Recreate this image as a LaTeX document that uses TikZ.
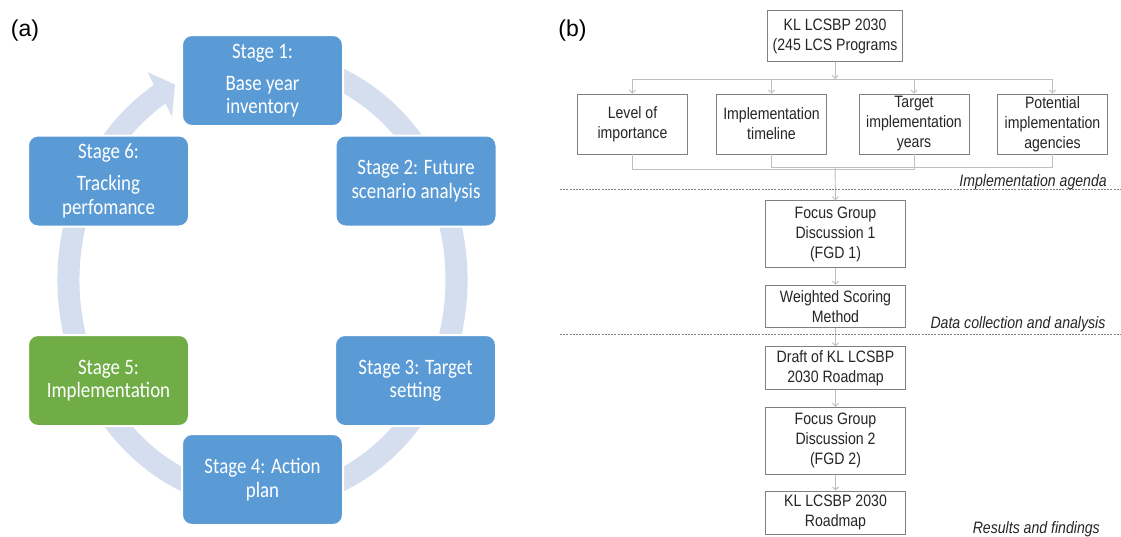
\documentclass[tikz,border=0pt]{standalone}
\usepackage{fontspec}
\usetikzlibrary{arrows.meta}
\newfontfamily\calfont[FakeStretch=0.86]{Carlito}
\newfontfamily\arlfont[FakeStretch=0.855]{Liberation Sans}
\newfontfamily\lblfont{Liberation Sans}
\definecolor{stblue}{HTML}{5B9BD5}
\definecolor{stgreen}{HTML}{70AD47}
\definecolor{ringc}{HTML}{D4DEEF}
\definecolor{boxline}{HTML}{808080}
\definecolor{connc}{HTML}{BFBFBF}
\tikzset{
 stage/.style={draw=white, line width=2pt, rounded corners=10pt, fill=stblue, minimum width=161pt, minimum height=91pt, text=white, font=\calfont\fontsize{22}{23.5}\selectfont, align=center, inner sep=0pt},
 pbox/.style={draw=boxline, line width=0.9pt, fill=white, font=\arlfont\fontsize{16.5}{20}\selectfont, align=center, inner sep=0pt, text=black!85},
 conn/.style={draw=connc, line width=0.9pt},
 arr/.style={conn, -{Straight Barb[length=3pt,width=6pt]}},
 sepline/.style={draw=gray, line width=0.8pt, dash pattern=on 2pt off 1.2pt},
 note/.style={font=\arlfont\itshape\fontsize{16.5}{20}\selectfont, anchor=base east, inner sep=0pt, text=black!85},
 lbl/.style={font=\lblfont\fontsize{23}{26}\selectfont, inner sep=0pt}
}
\begin{document}
\begin{tikzpicture}[x=1pt,y=1pt]
\fill[white] (0,0) rectangle (1121,-536);
\useasboundingbox (0,0) rectangle (1121,-536);

% ---------- (a) ----------
\node[lbl] (la) at (25,-31) {(a)};
\fill[ringc] (262.5,-280) ++(70:205 and 230)
  arc[start angle=70, end angle=-238, x radius=205, y radius=230]
  -- (147.5,-72.2) -- (175,-84.5) -- (172,-116.6) -- (165.5,-103.6)
  arc[start angle=-238, end angle=70, x radius=183, y radius=208] -- cycle;

\node[stage] (s1) at (262.5,-80.5) {Stage 1:\\[8.5pt]Base year\\inventory};
\node[stage] (s2) at (416,-181) {Stage 2: Future\\scenario analysis};
\node[stage] (s3) at (415.5,-380.5) {Stage 3: Target\\setting};
\node[stage] (s4) at (262.5,-479.5) {Stage 4: Action\\plan};
\node[stage, fill=stgreen] (s5) at (108.5,-380.5) {Stage 5:\\Implementation};
\node[stage] (s6) at (108.5,-181) {Stage 6:\\[8.5pt]Tracking\\perfomance};

% ---------- (b) ----------
\node[lbl] (lb) at (572.5,-31) {(b)};
\node[pbox, minimum width=134.6pt, minimum height=51pt] (top) at (835,-36.2) {KL LCSBP 2030\\(245 LCS Programs};
\node[pbox, minimum width=110pt, minimum height=60pt] (b1) at (632.5,-124) {Level of\\importance};
\node[pbox, minimum width=110pt, minimum height=60pt] (b2) at (771.5,-124) {Implementation\\timeline};
\node[pbox, minimum width=110pt, minimum height=60pt] (b3) at (914,-124) {Target\\implementation\\years};
\node[pbox, minimum width=110pt, minimum height=60pt] (b4) at (1052.5,-124) {Potential\\implementation\\agencies};
\node[pbox, minimum width=139.6pt, minimum height=66.6pt] (f1) at (835.5,-234) {Focus Group\\Discussion 1\\(FGD 1)};
\node[pbox, minimum width=139.6pt, minimum height=42.3pt] (w) at (835.5,-306.2) {Weighted Scoring\\Method};
\node[pbox, minimum width=139.6pt, minimum height=42.3pt] (d) at (835.5,-367.9) {Draft of KL LCSBP\\2030 Roadmap};
\node[pbox, minimum width=139.6pt, minimum height=67pt] (f2) at (835.5,-440.8) {Focus Group\\Discussion 2\\(FGD 2)};
\node[pbox, minimum width=139.6pt, minimum height=43.5pt] (fin) at (835.5,-512.7) {KL LCSBP 2030\\Roadmap};

\coordinate (bar) at (835,-79);
\coordinate (jA) at (835,-167);
\coordinate (jB) at (835,-169.5);
\draw[arr] (top.south) -- (bar);
\draw[conn] (b1.north |- bar) -- (b4.north |- bar);
\foreach \b in {b1,b2,b3,b4} \draw[arr] (\b.north |- bar) -- (\b.north);
\draw[conn] (b2.south) -- (b2.south |- jA) -- (b4.south |- jA) -- (b4.south);
\draw[conn] (b1.south) -- (b1.south |- jB) -- (b3.south |- jB) -- (b3.south);
\draw[arr] (jA) -- (f1.north);
\draw[arr] (f1.south) -- (w.north);
\draw[arr] (w.south) -- (d.north);
\draw[arr] (d.south) -- (f2.north);
\draw[arr] (f2.south) -- (fin.north);

\coordinate (d1l) at (560,-189);
\coordinate (d1r) at (1121,-189);
\coordinate (d2l) at (560,-334);
\coordinate (d2r) at (1121,-334);
\draw[sepline] (d1l) -- (d1r);
\draw[sepline] (d2l) -- (d2r);

\node[note] (n1) at (1107,-186.5) {Implementation agenda};
\node[note] (n2) at (1105.6,-328.5) {Data collection and analysis};
\node[note] (n3) at (1100,-533) {Results and findings};
\end{tikzpicture}
\end{document}
